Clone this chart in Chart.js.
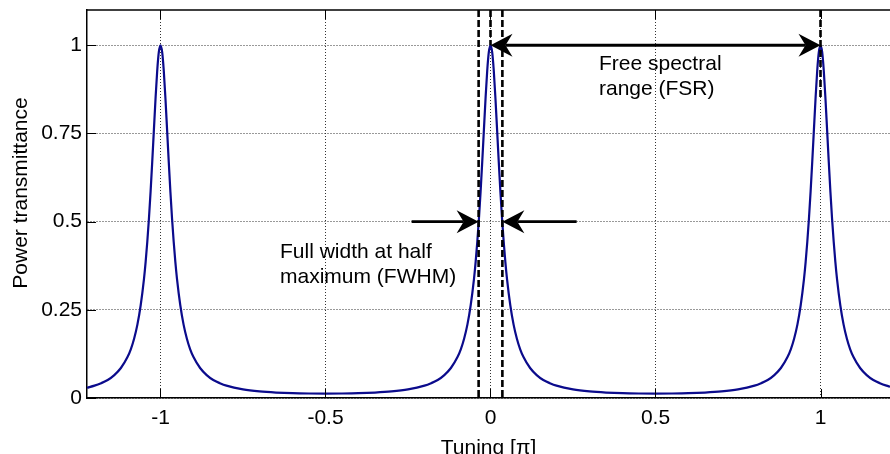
<!DOCTYPE html>
<html>
<head>
<meta charset="utf-8">
<script src="https://cdn.jsdelivr.net/npm/chart.js@4/dist/chart.umd.min.js"></script>
<style>
  html, body { margin: 0; padding: 0; background: #fff; overflow: hidden; }
  #wrap { width: 890px; height: 454px; }
</style>
</head>
<body>
<div id="wrap"><canvas id="chart" width="890" height="454"></canvas></div>
<script>
// tuning in units of pi
const tuning = [
  -1.2227, -1.2, -1.18, -1.16, -1.14, -1.12, -1.1, -1.09, -1.08, -1.07, -1.06, -1.05, -1.045,
  -1.04, -1.035, -1.03, -1.025, -1.02, -1.015, -1.01, -1.005, -1,
  -0.995, -0.99, -0.985, -0.98, -0.975, -0.97, -0.965, -0.96, -0.955, -0.95, -0.94, -0.93,
  -0.92, -0.91, -0.9, -0.88, -0.86, -0.84, -0.82, -0.8,
  -0.75, -0.7, -0.65, -0.6, -0.55, -0.5, -0.45, -0.4, -0.35, -0.3, -0.25,
  -0.2, -0.18, -0.16, -0.14, -0.12, -0.1, -0.09, -0.08, -0.07, -0.06, -0.05, -0.045,
  -0.04, -0.035, -0.03, -0.025, -0.02, -0.015, -0.01, -0.005, 0,
  0.005, 0.01, 0.015, 0.02, 0.025, 0.03, 0.035, 0.04, 0.045, 0.05, 0.06, 0.07,
  0.08, 0.09, 0.1, 0.12, 0.14, 0.16, 0.18, 0.2,
  0.25, 0.3, 0.35, 0.4, 0.45, 0.5, 0.55, 0.6, 0.65, 0.7, 0.75,
  0.8, 0.82, 0.84, 0.86, 0.88, 0.9, 0.91, 0.92, 0.93, 0.94, 0.95, 0.955,
  0.96, 0.965, 0.97, 0.975, 0.98, 0.985, 0.99, 0.995, 1,
  1.005, 1.01, 1.015, 1.02, 1.025, 1.03, 1.035, 1.04, 1.045, 1.05, 1.06, 1.07,
  1.08, 1.09, 1.1, 1.12, 1.14, 1.16, 1.18, 1.2, 1.2106
];
const transmittance = [
  0.029, 0.035, 0.042, 0.051, 0.065, 0.085, 0.116, 0.138, 0.168, 0.208, 0.263, 0.338, 0.386,
  0.443, 0.509, 0.585, 0.670, 0.760, 0.849, 0.927, 0.981, 1,
  0.981, 0.927, 0.849, 0.760, 0.670, 0.585, 0.509, 0.443, 0.386, 0.338, 0.263, 0.208,
  0.168, 0.138, 0.116, 0.085, 0.065, 0.051, 0.042, 0.035,
  0.0244, 0.0187, 0.0155, 0.0136, 0.0127, 0.0123, 0.0127, 0.0136, 0.0155, 0.0187, 0.0244,
  0.035, 0.042, 0.051, 0.065, 0.085, 0.116, 0.138, 0.168, 0.208, 0.263, 0.338, 0.386,
  0.443, 0.509, 0.585, 0.670, 0.760, 0.849, 0.927, 0.981, 1,
  0.981, 0.927, 0.849, 0.760, 0.670, 0.585, 0.509, 0.443, 0.386, 0.338, 0.263, 0.208,
  0.168, 0.138, 0.116, 0.085, 0.065, 0.051, 0.042, 0.035,
  0.0244, 0.0187, 0.0155, 0.0136, 0.0127, 0.0123, 0.0127, 0.0136, 0.0155, 0.0187, 0.0244,
  0.035, 0.042, 0.051, 0.065, 0.085, 0.116, 0.138, 0.168, 0.208, 0.263, 0.338, 0.386,
  0.443, 0.509, 0.585, 0.670, 0.760, 0.849, 0.927, 0.981, 1,
  0.981, 0.927, 0.849, 0.760, 0.670, 0.585, 0.509, 0.443, 0.386, 0.338, 0.263, 0.208,
  0.168, 0.138, 0.116, 0.085, 0.065, 0.051, 0.042, 0.035, 0.032
];
const xTicks = [-1, -0.5, 0, 0.5, 1];
const yTicks = [0, 0.25, 0.5, 0.75, 1];
const xRange = [-1.2227, 1.2106];
const yRange = [0, 1.1];

// annotation anchors (data units)
const fwhmEdges = [-0.036, 0.036];
const halfMax = 0.5;
const fwhmTails = [-0.239, 0.261];
const fsrPeaks = [0, 1];
const fsrDashBottom = 0.85;

const fontFamily = '"Liberation Sans", Arial, Helvetica, sans-serif';
const font = { family: fontFamily, size: 21 };
const fontCss = '21px ' + fontFamily;

let arrowHead = function(ctx, tx, ty, dir) {
    let L = 22, W = 11.5, N = 15;
    ctx.beginPath();
    ctx.moveTo(tx, ty);
    ctx.lineTo(tx - dir * L, ty - W);
    ctx.lineTo(tx - dir * N, ty);
    ctx.lineTo(tx - dir * L, ty + W);
    ctx.closePath();
    ctx.fill();
};

let arrow = function(ctx, fromX, tipX, y) {
    let dir = tipX > fromX ? 1 : -1;
    ctx.beginPath();
    ctx.moveTo(fromX, y);
    ctx.lineTo(tipX - dir * 15, y);
    ctx.stroke();
    arrowHead(ctx, tipX, y, dir);
};

let dashedV = function(ctx, x, y1, y2) {
    ctx.save();
    ctx.setLineDash([7, 3]);
    ctx.lineWidth = 2.6;
    ctx.beginPath();
    ctx.moveTo(x, y1);
    ctx.lineTo(x, y2);
    ctx.stroke();
    ctx.restore();
};

let annotations = {
    id: 'annotations',
    afterDatasetsDraw(chart) {
        let ctx = chart.ctx;
        let xs = chart.scales.x, ys = chart.scales.y;
        let area = chart.chartArea;
        ctx.save();
        ctx.strokeStyle = '#000';
        ctx.fillStyle = '#000';

        // top frame line
        ctx.lineWidth = 1.5;
        ctx.beginPath();
        ctx.moveTo(area.left, area.top);
        ctx.lineTo(area.right, area.top);
        ctx.stroke();

        // inward tick marks
        ctx.lineWidth = 1;
        xTicks.forEach((v) => {
            let px = Math.round(xs.getPixelForValue(v)) + 0.5;
            ctx.beginPath();
            ctx.moveTo(px, area.top); ctx.lineTo(px, area.top + 9);
            ctx.moveTo(px, area.bottom); ctx.lineTo(px, area.bottom - 9);
            ctx.stroke();
        });
        yTicks.forEach((v) => {
            let py = Math.round(ys.getPixelForValue(v)) + 0.5;
            ctx.beginPath();
            ctx.moveTo(area.left, py); ctx.lineTo(area.left + 9, py);
            ctx.stroke();
        });

        // dashed markers
        fwhmEdges.forEach((v) => {
            dashedV(ctx, xs.getPixelForValue(v), area.top, area.bottom);
        });
        dashedV(ctx, xs.getPixelForValue(fsrPeaks[0]), area.top, ys.getPixelForValue(1));
        dashedV(ctx, xs.getPixelForValue(fsrPeaks[1]), area.top, ys.getPixelForValue(fsrDashBottom));

        // arrows
        ctx.lineWidth = 2.8;
        let yHalf = ys.getPixelForValue(halfMax);
        arrow(ctx, xs.getPixelForValue(fwhmTails[0]), xs.getPixelForValue(fwhmEdges[0]), yHalf);
        arrow(ctx, xs.getPixelForValue(fwhmTails[1]), xs.getPixelForValue(fwhmEdges[1]), yHalf);
        let yOne = ys.getPixelForValue(1);
        let p0 = xs.getPixelForValue(fsrPeaks[0]), p1 = xs.getPixelForValue(fsrPeaks[1]);
        ctx.beginPath();
        ctx.moveTo(p0 + 15, yOne);
        ctx.lineTo(p1 - 15, yOne);
        ctx.stroke();
        arrowHead(ctx, p0, yOne, -1);
        arrowHead(ctx, p1, yOne, 1);

        // labels
        ctx.font = fontCss;
        ctx.textAlign = 'left';
        ctx.textBaseline = 'alphabetic';
        ctx.fillText('Free spectral', 599, 70);
        ctx.fillText('range (FSR)', 599, 95);
        ctx.fillText('Full width at half', 280, 258);
        ctx.fillText('maximum (FWHM)', 280, 283);

        // y axis title, sits a little above the axis centre in the original
        ctx.translate(21, 193);
        ctx.rotate(-Math.PI / 2);
        ctx.textAlign = 'center';
        ctx.textBaseline = 'middle';
        ctx.fillText('Power transmittance', 0, 0);
        ctx.restore();
    }
};

let ctx = document.getElementById('chart').getContext('2d');
let chart = new Chart(ctx, {
    type: 'line',
    data: {
        datasets: [{
            data: tuning.map((x, i) => ({ x: x, y: transmittance[i] })),
            borderColor: '#0b0b8c',
            borderWidth: 2.2,
            pointRadius: 0,
            fill: false,
            cubicInterpolationMode: 'monotone'
        }]
    },
    options: {
        responsive: false,
        animation: false,
        devicePixelRatio: 1,
        layout: { padding: { top: 10, right: 0, bottom: 0, left: 0 } },
        plugins: { legend: { display: false }, tooltip: { enabled: false } },
        scales: {
            x: {
                type: 'linear',
                min: xRange[0],
                max: xRange[1],
                afterBuildTicks: (s) => { s.ticks = xTicks.map((v) => ({ value: v })); },
                afterFit: (s) => { s.height = 56; s.paddingLeft = 0; s.paddingRight = 0; },
                ticks: { font: font, color: '#000', padding: 8, maxRotation: 0, autoSkip: false,
                         callback: (v) => String(v) },
                grid: { color: '#333', lineWidth: 1, drawTicks: false },
                border: { display: true, color: '#000', width: 1.5, dash: [1, 2] },
                title: { display: true, text: 'Tuning [π]', font: font, color: '#000',
                         padding: { top: 0, bottom: -7 } }
            },
            y: {
                type: 'linear',
                min: yRange[0],
                max: yRange[1],
                afterBuildTicks: (s) => { s.ticks = yTicks.map((v) => ({ value: v })); },
                afterFit: (s) => { s.width = 87; s.paddingTop = 0; s.paddingBottom = 0; },
                ticks: { font: font, color: '#000', padding: 5, autoSkip: false,
                         callback: (v) => String(v) },
                grid: { color: '#333', lineWidth: 1, drawTicks: false },
                border: { display: true, color: '#000', width: 1.5, dash: [1, 2] },
                title: { display: false }
            }
        }
    },
    plugins: [annotations]
});
</script>
</body>
</html>
